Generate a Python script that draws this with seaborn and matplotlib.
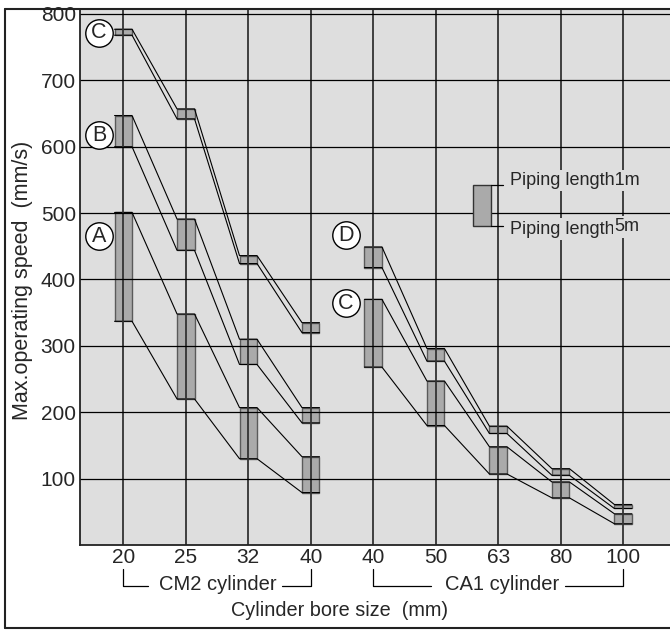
import numpy as np
import pandas as pd
import matplotlib
matplotlib.use("Agg")
import matplotlib.pyplot as plt
import matplotlib.transforms as mtransforms
from matplotlib.lines import Line2D
import seaborn as sns

# bore sizes (two cylinder groups share one category axis)
bores_cm2 = ["20", "25", "32", "40"]
bores_ca1 = ["40", "50", "63", "80", "100"]

# speed bands: top = piping length 1m, bottom = piping length 5m
cm2_A_top = [501, 348, 207, 133]
cm2_A_bot = [337, 220, 130, 79]
cm2_B_top = [647, 491, 310, 207]
cm2_B_bot = [600, 444, 272, 184]
cm2_C_top = [777, 657, 436, 335]
cm2_C_bot = [768, 642, 424, 320]

ca1_C_top = [370, 247, 148, 95, 47]
ca1_C_bot = [268, 180, 107, 71, 32]
ca1_D_top = [449, 296, 179, 115, 61]
ca1_D_bot = [418, 277, 168, 105, 55]

# circle labels: (letter, x position, speed)
marks = [("C", -0.39, 772), ("B", -0.39, 617), ("A", -0.39, 465),
         ("D", 3.56, 467), ("C", 3.56, 364)]

yticks = [100, 200, 300, 400, 500, 600, 700, 800]

bg = "#dedede"
sns.set_style("white", {"axes.facecolor": bg})
plt.rcParams["font.family"] = ["Liberation Sans", "DejaVu Sans"]

fig = plt.figure(figsize=(6.7, 6.3), dpi=100)
ax = fig.add_axes([80 / 670, 85 / 630, 590 / 670, 536 / 630])
ax.set_facecolor(bg)

labels = bores_cm2 + bores_ca1
n_cm2 = len(bores_cm2)

series = [
    (np.arange(n_cm2), cm2_A_top, cm2_A_bot),
    (np.arange(n_cm2), cm2_B_top, cm2_B_bot),
    (np.arange(n_cm2), cm2_C_top, cm2_C_bot),
    (n_cm2 + np.arange(len(bores_ca1)), ca1_C_top, ca1_C_bot),
    (n_cm2 + np.arange(len(bores_ca1)), ca1_D_top, ca1_D_bot),
]

w = 0.28
rows = []
for k, (pos, top, bot) in enumerate(series):
    top = np.array(top)
    bot = np.array(bot)
    ax.bar(pos, top - bot, bottom=bot, width=w, color="#aaaaaa",
           edgecolor="#5a5a5a", linewidth=1.0, zorder=1)
    for edge, vals in (("top", top), ("bot", bot)):
        for p, v in zip(pos, vals):
            rows.append({"line": f"{k}{edge}", "x": p - w / 2, "y": v})
            rows.append({"line": f"{k}{edge}", "x": p + w / 2, "y": v})

lines = pd.DataFrame(rows)
sns.lineplot(data=lines, x="x", y="y", units="line", estimator=None,
             sort=False, color="black", linewidth=0.8, ax=ax, zorder=2)

# grid
for p in range(len(labels)):
    ax.axvline(p, color="#333333", linewidth=1.3, zorder=2.5)
for v in yticks:
    ax.axhline(v, color="black", linewidth=0.9, zorder=2.5)

ax.set_xlim(-0.693, 8.75)
ax.set_ylim(0, 807.5)
ax.set_xticks(range(len(labels)))
ax.set_xticklabels(labels)
ax.set_yticks(yticks)
ax.tick_params(axis="both", length=0, labelsize=15)
ax.tick_params(axis="x", pad=2.5)
ax.tick_params(axis="y", pad=3)
ax.set_xlabel("")
ax.set_ylabel("")
for s in ("top", "right"):
    ax.spines[s].set_visible(False)
for s in ("left", "bottom"):
    ax.spines[s].set_color("#222222")
    ax.spines[s].set_linewidth(1.3)

# circled letters
for letter, xp, yv in marks:
    ax.scatter([xp], [yv], s=390, facecolor="white", edgecolor="black",
               linewidth=1.0, zorder=4)
    ax.text(xp, yv, letter, ha="center", va="center", fontsize=15.5,
            zorder=5)

# legend sample
lx, ly_top, ly_bot = 5.745, 542, 481
ax.bar([lx], [ly_top - ly_bot], bottom=[ly_bot], width=0.28,
       color="#aaaaaa", edgecolor="#333333", linewidth=1.0, zorder=3)
ax.plot([lx + 0.14, lx + 0.33], [ly_top, ly_top], color="black", lw=0.9, zorder=3)
ax.plot([lx + 0.14, lx + 0.33], [ly_bot, ly_bot], color="black", lw=0.9, zorder=3)
tb = dict(facecolor=bg, edgecolor="none", pad=1.5)
ax.text(6.19, 549, "Piping length1m", ha="left", va="center",
        fontsize=13, bbox=tb, zorder=4)
t2 = ax.text(6.19, 476, "Piping length", ha="left", va="center",
             fontsize=13, bbox=tb, zorder=4)
ax.annotate("5m", xy=(1, 0.5), xycoords=t2, xytext=(0, 1.5),
            textcoords="offset points", ha="left", va="center",
            fontsize=13, bbox=tb, zorder=4)

# group brackets under the bore labels
trans = mtransforms.blended_transform_factory(ax.transData, ax.transAxes)
y_hi, y_lo, y_txt = -0.0448, -0.0765, -0.0746
groups = [("CM2 cylinder", 0, 3, 0.395, 2.54, 1.52),
          ("CA1 cylinder", 4, 8, 4.93, 7.07, 6.07)]
for name, a, b, ga, gb, tx in groups:
    ax.add_line(Line2D([a, a, ga], [y_hi, y_lo, y_lo], transform=trans,
                       color="black", lw=0.9, clip_on=False))
    ax.add_line(Line2D([gb, b, b], [y_lo, y_lo, y_hi], transform=trans,
                       color="black", lw=0.9, clip_on=False))
    ax.text(tx, y_txt, name, transform=trans, ha="center",
            va="center", fontsize=14.5)

fig.text(340 / 670, 1 - 610 / 630, "Cylinder bore size  (mm)", ha="center",
         va="center", fontsize=14.3)
fig.text(23 / 670, 1 - 280 / 630, "Max.operating speed  (mm/s)", ha="center",
         va="center", rotation=90, fontsize=15.5)

# outer frame
fx0, fy0, fy1 = 5 / 670, 1 - 627.5 / 630, 1 - 8.5 / 630
for xs, ys in (([fx0, fx0], [fy0, fy1]), ([fx0, 1], [fy1, fy1]), ([fx0, 1], [fy0, fy0])):
    fig.add_artist(Line2D(xs, ys, transform=fig.transFigure, color="#222222", lw=1.5))

fig.savefig("out.png", dpi=100)
